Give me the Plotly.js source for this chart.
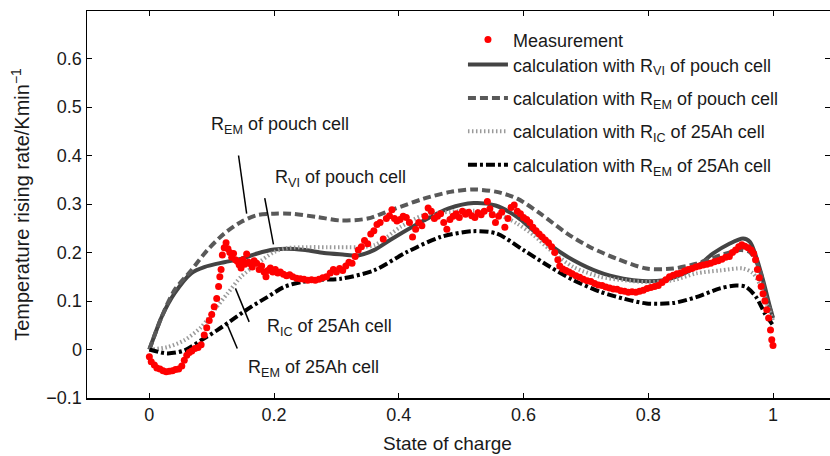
<!DOCTYPE html>
<html>
<head>
<meta charset="utf-8">
<script src="https://cdn.plot.ly/plotly-3.0.1.min.js"></script>
<style>
  html, body { margin: 0; padding: 0; background: #fff; }
  #chart { width: 830px; height: 456px; }
</style>
</head>
<body>
<div id="chart"></div>
<script>
// Measurement (state of charge, temperature rising rate)
const measSoc = [0.000,0.003,0.008,0.012,0.017,0.022,0.027,0.032,0.037,0.042,0.047,0.052,0.056,0.060,0.064,0.068,0.073,0.078,0.083,0.088,0.092,0.096,0.100,0.104,0.108,0.111,0.113,0.115,0.117,0.120,0.123,0.126,0.129,0.132,0.135,0.138,0.141,0.144,0.147,0.150,0.153,0.156,0.159,0.162,0.165,0.168,0.172,0.176,0.180,0.184,0.187,0.190,0.194,0.198,0.202,0.206,0.210,0.215,0.220,0.225,0.230,0.236,0.242,0.248,0.254,0.260,0.266,0.272,0.278,0.284,0.290,0.295,0.300,0.305,0.310,0.315,0.320,0.325,0.330,0.335,0.340,0.345,0.350,0.355,0.360,0.365,0.370,0.375,0.380,0.385,0.389,0.393,0.397,0.402,0.407,0.412,0.417,0.422,0.427,0.432,0.437,0.442,0.447,0.452,0.457,0.462,0.467,0.472,0.477,0.482,0.487,0.492,0.497,0.502,0.507,0.512,0.517,0.522,0.527,0.532,0.537,0.542,0.546,0.550,0.555,0.560,0.565,0.570,0.575,0.580,0.585,0.590,0.595,0.600,0.605,0.610,0.615,0.620,0.625,0.630,0.635,0.640,0.645,0.650,0.655,0.658,0.663,0.668,0.673,0.678,0.684,0.690,0.696,0.702,0.708,0.714,0.720,0.726,0.732,0.738,0.744,0.750,0.756,0.762,0.768,0.774,0.780,0.786,0.792,0.798,0.804,0.810,0.816,0.822,0.828,0.834,0.840,0.846,0.852,0.858,0.864,0.870,0.876,0.882,0.888,0.894,0.900,0.906,0.912,0.918,0.924,0.930,0.935,0.940,0.945,0.950,0.955,0.960,0.965,0.969,0.972,0.975,0.978,0.981,0.984,0.987,0.990,0.993,0.996,0.998,1.000];
const measRate = [-0.015,-0.025,-0.032,-0.038,-0.040,-0.044,-0.046,-0.045,-0.044,-0.041,-0.040,-0.034,-0.022,-0.012,-0.006,-0.003,0.002,0.004,0.010,0.030,0.045,0.060,0.072,0.088,0.105,0.130,0.150,0.165,0.195,0.210,0.220,0.208,0.200,0.190,0.198,0.185,0.182,0.175,0.168,0.185,0.176,0.197,0.180,0.177,0.170,0.183,0.178,0.165,0.172,0.160,0.150,0.163,0.168,0.160,0.165,0.158,0.160,0.155,0.152,0.154,0.150,0.147,0.146,0.145,0.143,0.144,0.143,0.145,0.148,0.150,0.158,0.165,0.160,0.167,0.163,0.172,0.180,0.178,0.192,0.205,0.212,0.225,0.218,0.238,0.245,0.258,0.262,0.228,0.270,0.276,0.288,0.270,0.265,0.268,0.275,0.272,0.262,0.232,0.248,0.262,0.255,0.275,0.292,0.285,0.270,0.275,0.280,0.262,0.248,0.268,0.275,0.280,0.272,0.285,0.279,0.283,0.276,0.272,0.282,0.278,0.285,0.305,0.290,0.278,0.262,0.275,0.283,0.252,0.270,0.293,0.298,0.285,0.280,0.272,0.268,0.262,0.252,0.245,0.238,0.232,0.226,0.220,0.212,0.200,0.185,0.172,0.166,0.163,0.160,0.156,0.152,0.149,0.145,0.142,0.140,0.136,0.133,0.132,0.129,0.127,0.125,0.124,0.121,0.120,0.118,0.119,0.118,0.120,0.122,0.126,0.128,0.130,0.132,0.138,0.144,0.150,0.153,0.156,0.158,0.162,0.165,0.167,0.170,0.172,0.174,0.176,0.178,0.181,0.183,0.186,0.190,0.192,0.200,0.205,0.212,0.216,0.213,0.210,0.205,0.198,0.185,0.165,0.148,0.130,0.115,0.100,0.082,0.065,0.040,0.020,0.008];

// Calculation with R_VI of pouch cell
const viSoc = [0,0.01,0.02,0.04,0.067,0.088,0.12,0.147,0.173,0.2,0.22,0.25,0.28,0.31,0.335,0.36,0.39,0.44,0.48,0.52,0.555,0.59,0.615,0.645,0.68,0.72,0.76,0.79,0.825,0.85,0.877,0.904,0.93,0.952,0.963,0.973,0.984,0.995,1.0];
const viRate = [0,0.035,0.068,0.115,0.157,0.170,0.180,0.187,0.198,0.206,0.208,0.205,0.199,0.196,0.194,0.205,0.229,0.266,0.291,0.302,0.297,0.273,0.246,0.213,0.184,0.160,0.146,0.141,0.143,0.153,0.170,0.198,0.218,0.229,0.222,0.191,0.143,0.088,0.065];

// Calculation with R_EM of pouch cell
const emPouchSoc = [0,0.01,0.02,0.04,0.067,0.093,0.12,0.147,0.173,0.2,0.227,0.27,0.307,0.35,0.387,0.44,0.483,0.52,0.557,0.59,0.627,0.67,0.707,0.75,0.797,0.84,0.877,0.915,0.947,0.963,0.979,0.989,1.0];
const emPouchRate = [0,0.035,0.068,0.122,0.163,0.205,0.239,0.263,0.277,0.280,0.280,0.273,0.266,0.270,0.287,0.311,0.325,0.330,0.325,0.311,0.280,0.239,0.211,0.187,0.167,0.167,0.177,0.194,0.205,0.201,0.163,0.108,0.067];

// Calculation with R_IC of 25Ah cell
const icSoc = [0,0.029,0.056,0.083,0.104,0.125,0.147,0.173,0.2,0.221,0.253,0.285,0.307,0.36,0.403,0.44,0.483,0.52,0.557,0.589,0.616,0.643,0.68,0.723,0.76,0.797,0.84,0.877,0.915,0.952,0.968,0.981,0.992,1.0];
const icRate = [0,0.005,0.019,0.046,0.081,0.115,0.150,0.177,0.201,0.209,0.211,0.211,0.211,0.215,0.253,0.277,0.284,0.286,0.280,0.260,0.236,0.205,0.170,0.150,0.143,0.139,0.143,0.157,0.163,0.167,0.157,0.129,0.088,0.06];

// Calculation with R_EM of 25Ah cell
const em25Soc = [0,0.029,0.056,0.083,0.109,0.136,0.163,0.189,0.216,0.243,0.275,0.307,0.36,0.413,0.467,0.52,0.557,0.6,0.643,0.68,0.723,0.76,0.797,0.84,0.877,0.915,0.941,0.957,0.973,0.987,1.0];
const em25Rate = [0,-0.008,-0.002,0.019,0.040,0.064,0.088,0.108,0.129,0.139,0.144,0.146,0.163,0.201,0.232,0.244,0.239,0.205,0.170,0.143,0.119,0.105,0.095,0.096,0.108,0.126,0.132,0.129,0.108,0.074,0.05];

const seriesNames = [
  'Measurement',
  'calculation with R<sub>VI</sub> of pouch cell',
  'calculation with R<sub>EM</sub> of pouch cell',
  'calculation with R<sub>IC</sub> of 25Ah cell',
  'calculation with R<sub>EM</sub> of 25Ah cell'
];
const yTickVals = [-0.1,0,0.1,0.2,0.3,0.4,0.5,0.6];
const yTickText = ['\u22120.1','0','0.1','0.2','0.3','0.4','0.5','0.6'];
const xTickVals = [0,0.2,0.4,0.6,0.8,1];
const xTickText = ['0','0.2','0.4','0.6','0.8','1'];

const FONT = 'Liberation Sans, Arial, Helvetica, sans-serif';
const TXT = '#1a1a1a';

const traces = [
  { x: viSoc, y: viRate, name: seriesNames[1], mode: 'lines', legend: 'legend2', legendgroup: 'g1', legendrank: 1,
    line: { color: '#444444', width: 4, shape: 'spline', smoothing: 0.8 } },
  { x: emPouchSoc, y: emPouchRate, name: seriesNames[2], mode: 'lines', legend: 'legend2', legendgroup: 'g2', legendrank: 2,
    line: { color: '#595959', width: 4, dash: '8px,4px', shape: 'spline', smoothing: 0.8 } },
  { x: icSoc, y: icRate, name: seriesNames[3], mode: 'lines', legend: 'legend2', legendgroup: 'g3', legendrank: 3,
    line: { color: '#9a9a9a', width: 4, dash: '1.5px,2.5px', shape: 'spline', smoothing: 0.8 } },
  { x: em25Soc, y: em25Rate, name: seriesNames[4], mode: 'lines', legend: 'legend2', legendgroup: 'g4', legendrank: 4,
    line: { color: '#000000', width: 4, dash: '9px,3px,3px,3px', shape: 'spline', smoothing: 0.8 } },
  { x: measSoc, y: measRate, name: seriesNames[0], mode: 'markers', legend: 'legend',
    marker: { color: '#ff0000', size: 7, line: { width: 0 } } }
];

const annFont = { family: FONT, size: 18, color: TXT };
const legFont = { family: FONT, size: 18, color: TXT };
const layout = {
  width: 830, height: 456,
  margin: { l: 87, r: 0, t: 11, b: 58 },
  paper_bgcolor: '#ffffff', plot_bgcolor: '#ffffff',
  font: { family: FONT, size: 18, color: TXT },
  showlegend: true,
  legend: {
    x: 0.506, y: 0.9734, xanchor: 'left', yanchor: 'top',
    bgcolor: 'rgba(255,255,255,0)', borderwidth: 0, font: legFont,
    itemwidth: 40
  },
  legend2: {
    x: 0.506, y: 0.9088, xanchor: 'left', yanchor: 'top',
    bgcolor: 'rgba(255,255,255,0)', borderwidth: 0, font: legFont,
    tracegroupgap: 7, itemwidth: 40
  },
  xaxis: {
    range: [-0.1, 1.0914], showgrid: false, zeroline: false,
    showline: true, linecolor: '#000', linewidth: 1.5, mirror: 'ticks',
    ticks: 'inside', ticklen: 5, tickwidth: 1, tickcolor: '#000',
    tickvals: xTickVals, ticktext: xTickText,
    tickfont: { family: FONT, size: 18, color: TXT }
  },
  yaxis: {
    range: [-0.1, 0.698], showgrid: false, zeroline: false,
    showline: true, linecolor: '#000', linewidth: 1.5, mirror: 'ticks',
    ticks: 'inside', ticklen: 5, tickwidth: 1, tickcolor: '#000',
    tickvals: yTickVals, ticktext: yTickText,
    tickfont: { family: FONT, size: 18, color: TXT },
    title: { text: 'Temperature rising rate/Kmin<sup>\u22121</sup>', font: { family: FONT, size: 20, color: TXT }, standoff: 11 }
  },
  shapes: [
    { type: 'line', xref: 'x', yref: 'y', x0: 0.143, y0: 0.400, x1: 0.156, y1: 0.280, line: { color: '#000', width: 1.5 } },
    { type: 'line', xref: 'x', yref: 'y', x0: 0.185, y0: 0.312, x1: 0.199, y1: 0.217, line: { color: '#000', width: 1.5 } },
    { type: 'line', xref: 'x', yref: 'y', x0: 0.138, y0: 0.126, x1: 0.160, y1: 0.057, line: { color: '#000', width: 1.5 } },
    { type: 'line', xref: 'x', yref: 'y', x0: 0.123, y0: 0.057, x1: 0.141, y1: 0.002, line: { color: '#000', width: 1.5 } }
  ],
  annotations: [
    { x: 0.4847, y: -0.117, xref: 'paper', yref: 'paper', xanchor: 'center', yanchor: 'middle', showarrow: false, text: 'State of charge', font: { family: FONT, size: 19, color: TXT } },
    { x: 0.096, y: 0.462, xref: 'x', yref: 'y', xanchor: 'left', yanchor: 'middle', showarrow: false, text: 'R<sub>EM</sub> of pouch cell', font: annFont },
    { x: 0.198, y: 0.353, xref: 'x', yref: 'y', xanchor: 'left', yanchor: 'middle', showarrow: false, text: 'R<sub>VI</sub> of pouch cell', font: annFont },
    { x: 0.185, y: 0.046, xref: 'x', yref: 'y', xanchor: 'left', yanchor: 'middle', showarrow: false, text: 'R<sub>IC</sub> of 25Ah cell', font: annFont },
    { x: 0.155, y: -0.039, xref: 'x', yref: 'y', xanchor: 'left', yanchor: 'middle', showarrow: false, text: 'R<sub>EM</sub> of 25Ah cell', font: annFont }
  ]
};

Plotly.newPlot('chart', traces, layout, { staticPlot: true, displayModeBar: false });
</script>
</body>
</html>
